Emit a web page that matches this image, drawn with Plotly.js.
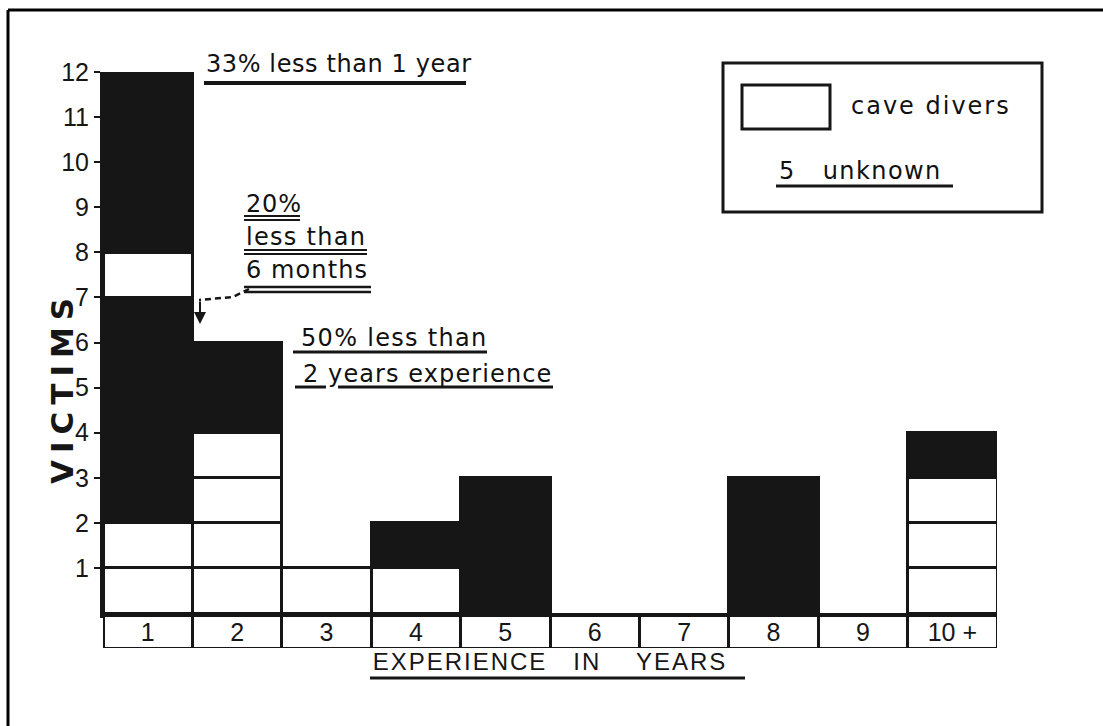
<!DOCTYPE html>
<html>
<head>
<meta charset="utf-8">
<script src="https://cdn.plot.ly/plotly-3.0.1.min.js"></script>
<style>
  html, body { margin: 0; padding: 0; background: #ffffff; }
  #chart { width: 1103px; height: 726px; }
</style>
</head>
<body>
<div id="chart"></div>
<script>
// ---- data ----
const years = ['1', '2', '3', '4', '5', '6', '7', '8', '9', '10 +'];
// cave-diver victims drawn as white unit boxes at the bottom of each column
const caveDiversLower = [2, 4, 1, 1, 0, 0, 0, 0, 0, 3];
// other victims (black) stacked above them
const othersLower = [5, 2, 0, 1, 3, 0, 0, 3, 0, 1];
// year 1 has a further cave diver box and more black above it
const caveDiversUpper = [1, 0, 0, 0, 0, 0, 0, 0, 0, 0];
const othersUpper = [4, 0, 0, 0, 0, 0, 0, 0, 0, 0];
const yTicks = [1, 2, 3, 4, 5, 6, 7, 8, 9, 10, 11, 12];

// ---- styling ----
const INK = '#161616';
const BOX_LINE = { color: INK, width: 3 };
const L = 103, R = 997, T = 72, B = 648;       // plot area in pixels
const X = p => (p - L) / (R - L);               // pixel -> paper
const Y = p => (B - p) / (B - T);
const nb = s => s.replace(/ /g, '\u00a0');

const traces = [];
const maxLower = Math.max(...caveDiversLower);
for (let k = 1; k <= maxLower; k++) {
  traces.push({
    type: 'bar', x: years,
    y: caveDiversLower.map(c => (c >= k ? 1 : null)),
    marker: { color: '#ffffff', line: BOX_LINE },
    hoverinfo: 'skip', name: 'cave divers'
  });
}
traces.push({
  type: 'bar', x: years, y: othersLower.map(v => v || null),
  marker: { color: INK, line: BOX_LINE }, hoverinfo: 'skip', name: 'others'
});
const maxUpper = Math.max(...caveDiversUpper);
for (let k = 1; k <= maxUpper; k++) {
  traces.push({
    type: 'bar', x: years,
    y: caveDiversUpper.map(c => (c >= k ? 1 : null)),
    marker: { color: '#ffffff', line: BOX_LINE },
    hoverinfo: 'skip', name: 'cave divers'
  });
}
traces.push({
  type: 'bar', x: years, y: othersUpper.map(v => v || null),
  marker: { color: INK, line: BOX_LINE }, hoverinfo: 'skip', name: 'others'
});
// row of category boxes under the baseline
traces.push({
  type: 'bar', x: years, y: years.map(() => 1), yaxis: 'y2',
  text: years.map(nb), textposition: 'inside', insidetextanchor: 'middle',
  constraintext: 'none', textangle: 0,
  textfont: { family: 'Liberation Sans, Arial, sans-serif', size: 25, color: INK },
  marker: { color: '#ffffff', line: BOX_LINE }, hoverinfo: 'skip'
});

const txtFont = { family: 'DejaVu Sans, sans-serif', size: 24, color: '#111' };
function label(text, px, py, spacing) {
  return {
    text: '<span style="letter-spacing:' + spacing + 'px">' + nb(text) + '</span>',
    xref: 'paper', yref: 'paper', x: X(px), y: Y(py),
    xanchor: 'left', yanchor: 'middle', showarrow: false, font: txtFont
  };
}
function uline(x0, x1, py, w) {
  return {
    type: 'line', xref: 'paper', yref: 'paper',
    x0: X(x0), x1: X(x1), y0: Y(py), y1: Y(py),
    line: { color: INK, width: w || 3 }
  };
}

const annotations = [
  label('33% less than 1 year', 204, 64, 0.6),
  label('20%', 244, 204, 0.8),
  label('less than', 244, 237, 1.3),
  label('6 months', 244, 270, 1.1),
  label('50% less than', 299, 338, 1.3),
  label('2 years experience', 301, 374, 1.1),
  label('cave divers', 849, 106, 2.0),
  label('5   unknown', 777, 171, 1.4),
  { // y axis title, placed as in the reference
    text: '<b><span style="letter-spacing:7px">VICTIMS</span></b>',
    xref: 'paper', yref: 'paper', x: X(62), y: Y(388),
    xanchor: 'center', yanchor: 'middle', textangle: -90, showarrow: false,
    font: { family: 'DejaVu Sans, sans-serif', size: 31, color: INK }
  },
  { // little arrow pointing down into the year-1 column at 7
    text: '', xref: 'paper', yref: 'paper', x: X(200), y: Y(324),
    ax: 0, ay: -24, showarrow: true, arrowhead: 2, arrowsize: 1.2,
    arrowwidth: 2, arrowcolor: INK
  }
];

const shapes = [
  // page frame (left and top edges)
  { type: 'line', xref: 'paper', yref: 'paper', x0: X(8), x1: X(8), y0: Y(10), y1: Y(730), line: { color: '#000', width: 3 } },
  { type: 'line', xref: 'paper', yref: 'paper', x0: X(8), x1: X(1103), y0: Y(10), y1: Y(10), line: { color: '#000', width: 3 } },
  // underlines
  uline(204, 466, 83, 4),
  uline(244, 300, 216, 2), uline(244, 300, 220, 2),
  uline(244, 367, 250, 2), uline(244, 367, 254, 2),
  uline(244, 371, 287, 2.5), uline(244, 371, 292, 2.5),
  uline(293, 487, 352, 3),
  uline(295, 326, 387, 3), uline(338, 553, 387, 3),
  uline(776, 953, 186, 3),
  uline(370, 745, 678, 3),
  // dashed leader from "6 months" to the column
  {
    type: 'path', xref: 'paper', yref: 'paper',
    path: 'M' + X(249) + ',' + Y(289) + ' L' + X(233) + ',' + Y(297) + ' L' + X(199) + ',' + Y(300),
    line: { color: INK, width: 2.5, dash: '6px,4px' }
  },
  // legend box
  { type: 'rect', xref: 'paper', yref: 'paper', x0: X(723), x1: X(1042), y0: Y(63), y1: Y(212), line: { color: INK, width: 3 }, fillcolor: 'rgba(0,0,0,0)' },
  { type: 'rect', xref: 'paper', yref: 'paper', x0: X(742), x1: X(830), y0: Y(85), y1: Y(129), line: { color: INK, width: 3 }, fillcolor: '#ffffff' }
];

const layout = {
  width: 1103, height: 726,
  margin: { l: L, r: 1103 - R, t: T, b: 726 - B, pad: 0 },
  paper_bgcolor: '#ffffff', plot_bgcolor: '#ffffff',
  barmode: 'stack', bargap: 0, showlegend: false,
  font: { family: 'DejaVu Sans, sans-serif', color: INK },
  xaxis: {
    type: 'category', anchor: 'y', showline: true, linewidth: 5, linecolor: INK,
    showticklabels: false, ticks: '', showgrid: false, zeroline: false, fixedrange: true,
    title: {
      text: '<span style="letter-spacing:2px">' + nb('EXPERIENCE   IN    YEARS') + '</span>', standoff: 38,
      font: { family: 'Liberation Sans, Arial, sans-serif', size: 24, color: INK }
    }
  },
  yaxis: {
    domain: [(B - 613) / (B - T), 1], range: [0, 12],
    tickvals: yTicks, ticktext: yTicks.map(String),
    ticks: 'outside', ticklen: 6, tickwidth: 2, tickcolor: INK,
    showline: true, linewidth: 3, linecolor: INK,
    showgrid: false, zeroline: false, fixedrange: true,
    tickfont: { family: 'Liberation Sans, Arial, sans-serif', size: 25, color: INK }
  },
  yaxis2: {
    domain: [0, (B - 615) / (B - T)], range: [0, 1], anchor: 'x',
    visible: false, fixedrange: true
  },
  annotations: annotations,
  shapes: shapes
};

Plotly.newPlot('chart', traces, layout, { staticPlot: true, displayModeBar: false });
</script>
</body>
</html>
